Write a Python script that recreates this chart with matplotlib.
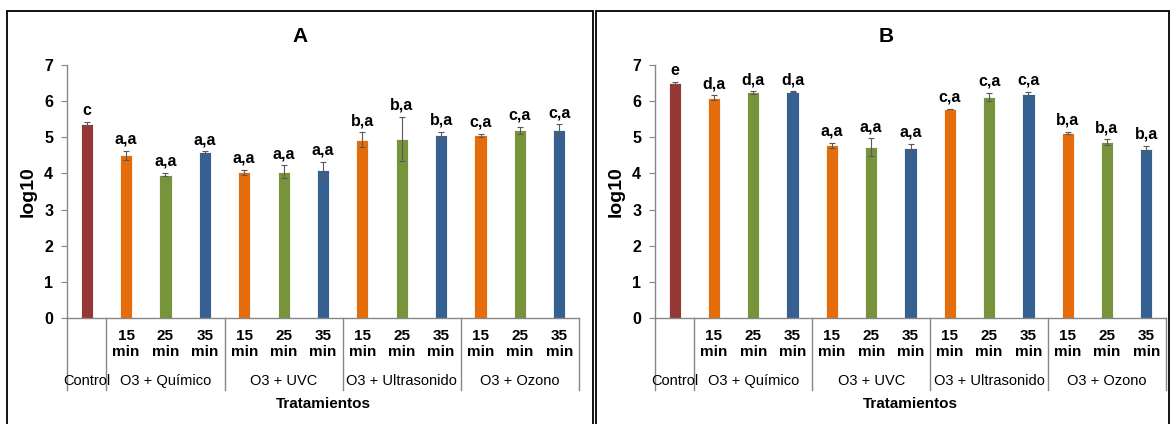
import matplotlib.pyplot as plt
from matplotlib.patches import Rectangle

plt.rcParams['font.family'] = ['Liberation Sans', 'DejaVu Sans']

# categories
groups = ['Control', 'O3 + Químico', 'O3 + UVC', 'O3 + Ultrasonido', 'O3 + Ozono']
group_sizes = [1, 3, 3, 3, 3]
times = ['', '15\nmin', '25\nmin', '35\nmin', '15\nmin', '25\nmin', '35\nmin',
         '15\nmin', '25\nmin', '35\nmin', '15\nmin', '25\nmin', '35\nmin']
colors = ['#953735', '#E46C0A', '#77933C', '#376092', '#E46C0A', '#77933C', '#376092',
          '#E46C0A', '#77933C', '#376092', '#E46C0A', '#77933C', '#376092']

# panel A
vals_a = [5.36, 4.50, 3.97, 4.58, 4.03, 4.05, 4.09, 4.93, 4.95, 5.05, 5.05, 5.19, 5.19]
err_a = [0.05, 0.13, 0.04, 0.03, 0.07, 0.17, 0.24, 0.21, 0.61, 0.10, 0.04, 0.09, 0.17]
lab_a = ['c', 'a,a', 'a,a', 'a,a', 'a,a', 'a,a', 'a,a', 'b,a', 'b,a', 'b,a', 'c,a', 'c,a', 'c,a']

# panel B
vals_b = [6.50, 6.09, 6.24, 6.26, 4.78, 4.73, 4.69, 5.78, 6.12, 6.19, 5.13, 4.86, 4.67]
err_b = [0.03, 0.07, 0.03, 0.01, 0.07, 0.24, 0.13, 0.01, 0.11, 0.06, 0.03, 0.08, 0.10]
lab_b = ['e', 'd,a', 'd,a', 'd,a', 'a,a', 'a,a', 'a,a', 'c,a', 'c,a', 'c,a', 'b,a', 'b,a', 'b,a']

W, H = 1171, 424
fig = plt.figure(figsize=(W / 100, H / 100), dpi=100)

# panel frames
for x0, x1 in [(7, 593), (596, 1169)]:
    fig.patches.append(Rectangle((x0 / W, -0.05), (x1 - x0) / W, 1 - 11 / H + 0.05,
                                 transform=fig.transFigure, fill=False,
                                 edgecolor='black', linewidth=1.3))


def panel(left, width, vals, errs, labels, title, title_x):
    ax = fig.add_axes([left / W, (H - 318) / H, width / W, (318 - 65) / H])
    x = [i + 0.5 for i in range(len(vals))]
    ax.bar(x, vals, width=0.31, color=colors, edgecolor='white', linewidth=0.6)
    ax.errorbar(x, vals, yerr=errs, fmt='none', ecolor='#595959',
                elinewidth=0.8, capsize=2.5, capthick=0.8)
    for xi, v, e, t in zip(x, vals, errs, labels):
        ax.annotate(t, (xi, v + e), xytext=(0, 3), textcoords='offset points',
                    ha='center', va='bottom', fontsize=11.5, fontweight='bold')
    ax.set_xlim(0, len(vals))
    ax.set_ylim(0, 7)
    ax.set_yticks(range(8))
    ax.set_xticks([])
    for s in ['top', 'right']:
        ax.spines[s].set_visible(False)
    for s in ['left', 'bottom']:
        ax.spines[s].set_color('#868686')
        ax.spines[s].set_linewidth(1)
    ax.tick_params(axis='y', length=4, color='#868686', labelsize=11.5, pad=6)
    for lbl in ax.get_yticklabels():
        lbl.set_fontweight('bold')
    ax.set_ylabel('log10', fontsize=14, fontweight='bold')
    ax.yaxis.set_label_coords(-0.06, 0.5)

    # multi-level category axis
    for xi, t in zip(x, times):
        ax.text(xi, -0.72, t, ha='center', va='center', fontsize=11,
                fontweight='bold', linespacing=1.15, clip_on=False)
    pos = 0
    ax.plot([0, 0], [0, -2.0], color='#868686', lw=1, clip_on=False)
    for g, n in zip(groups, group_sizes):
        ax.text(pos + n / 2, -1.74, g, ha='center', va='center', fontsize=10.5,
                clip_on=False)
        pos += n
        ax.plot([pos, pos], [0, -2.0], color='#868686', lw=1, clip_on=False)
    ax.text(len(vals) / 2, -2.37, 'Tratamientos', ha='center', va='center',
            fontsize=11, fontweight='bold', clip_on=False)
    fig.text(title_x / W, 1 - 36 / H, title, ha='center', va='center',
             fontsize=15, fontweight='bold')
    return ax


panel(67, 512, vals_a, err_a, lab_a, 'A', 300)
panel(655, 511, vals_b, err_b, lab_b, 'B', 886)

fig.savefig('out.png', dpi=100)
